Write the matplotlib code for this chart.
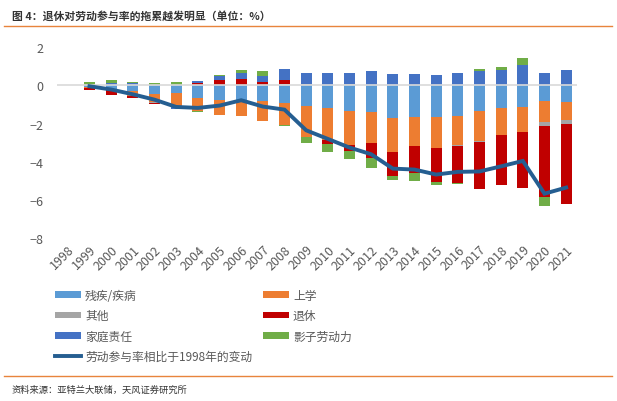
import numpy as np
import matplotlib
matplotlib.use("Agg")
import matplotlib.pyplot as plt
from matplotlib.lines import Line2D

plt.rcParams['font.family'] = ['Noto Sans CJK SC', 'DejaVu Sans']

years = [str(y) for y in range(1998, 2022)]

# 各因素对劳动参与率变化的贡献（百分点），1998年为基期
disability = [0, -0.08, -0.23, -0.31, -0.43, -0.40, -0.66, -0.78, -0.75, -0.84, -0.92, -1.10,
              -1.17, -1.36, -1.39, -1.71, -1.67, -1.67, -1.60, -1.36, -1.18, -1.15, -0.84, -0.87]
school = [0, -0.04, -0.04, -0.26, -0.43, -0.73, -0.70, -0.78, -0.87, -1.04, -1.17, -1.62,
          -1.67, -1.78, -1.64, -1.79, -1.51, -1.58, -1.53, -1.57, -1.43, -1.31, -1.08, -0.96]
other = [0, 0, 0, 0, -0.05, 0, 0, 0, 0, 0, 0.07, 0.07,
         0, 0.07, 0, 0, 0, -0.03, -0.05, -0.05, 0, 0, -0.23, -0.21]
retire = [0, -0.12, -0.26, -0.09, -0.07, 0, 0.12, 0.26, 0.31, 0.16, 0.19, 0,
          -0.23, -0.31, -0.77, -1.25, -1.39, -1.78, -1.91, -2.45, -2.61, -2.92, -3.69, -4.14]
family = [0, 0, 0.10, 0.10, 0, -0.10, 0.10, 0.23, 0.31, 0.31, 0.57, 0.56,
          0.63, 0.56, 0.73, 0.57, 0.57, 0.52, 0.63, 0.73, 0.78, 1.04, 0.63, 0.78]
shadow = [0, 0.16, 0.16, 0.05, 0.10, 0.16, -0.05, 0.05, 0.16, 0.26, -0.05, -0.30,
          -0.42, -0.40, -0.52, -0.21, -0.44, -0.16, -0.07, 0.10, 0.16, 0.37, -0.47, -0.03]
lfpr_change = [np.nan, -0.05, -0.22, -0.47, -0.75, -1.13, -1.18, -1.06, -0.78, -1.11, -1.27, -2.35,
               -2.80, -3.25, -3.60, -4.35, -4.40, -4.66, -4.52, -4.50, -4.23, -3.95, -5.66, -5.34]

series = [
    ("残疾/疾病", disability, "#5B9BD5"),
    ("上学", school, "#ED7D31"),
    ("其他", other, "#A5A5A5"),
    ("退休", retire, "#C00000"),
    ("家庭责任", family, "#4472C4"),
    ("影子劳动力", shadow, "#70AD47"),
]
line_label = "劳动参与率相比于1998年的变动"

fig = plt.figure(figsize=(6.17, 4.02), dpi=100)
ax = fig.add_axes([57 / 617, 1 - 239.5 / 402, 520 / 617, 191.5 / 402])

x = np.arange(len(years))
pos_base = np.zeros(len(years))
neg_base = np.zeros(len(years))
handles = {}
for name, vals, color in series:
    v = np.array(vals, dtype=float)
    bottom = np.where(v >= 0, pos_base, neg_base)
    handles[name] = ax.bar(x, v, 0.51, bottom=bottom, color=color, label=name, zorder=2)
    pos_base += np.where(v >= 0, v, 0)
    neg_base += np.where(v < 0, v, 0)

ax.axhline(0, color="#D9D9D9", lw=1.2, zorder=3)
ln, = ax.plot(x, lfpr_change, color="#255E91", lw=2.8, zorder=4,
              solid_joinstyle="miter", label=line_label)

ax.set_xlim(-0.5, len(years) - 0.5)
ax.set_ylim(-8, 2)
ax.set_yticks([2, 0, -2, -4, -6, -8])
ax.set_xticks(x)
ax.set_xticklabels(years, rotation=45, ha="right", va="top", rotation_mode="anchor")
for s in ax.spines.values():
    s.set_visible(False)
ax.tick_params(length=0, labelsize=9, colors="#595959")
ax.tick_params(axis="x", pad=3)
ax.tick_params(axis="y", pad=10)

order = ["残疾/疾病", "其他", "家庭责任", None, "上学", "退休", "影子劳动力"]
hs = []
ls = []
for n in order:
    if n is None:
        hs.append(Line2D([], [], color="#255E91", lw=2.8))
        ls.append(line_label)
    else:
        hs.append(handles[n])
        ls.append(n)
fig.legend(hs, ls, ncol=2, loc="upper left", bbox_to_anchor=(55 / 617, 1 - 290 / 402),
           frameon=False, fontsize=8.5, labelcolor="#595959", handlelength=2.2,
           handleheight=0.5, handletextpad=0.35, columnspacing=0.9, labelspacing=0.62,
           borderpad=0, borderaxespad=0)

# 标题与来源
fig.text(12 / 617, 1 - 16 / 402, "图 4：退休对劳动参与率的拖累越发明显（单位：%）",
         fontsize=7.8, fontweight="bold", color="#333333", va="center", ha="left")
fig.add_artist(Line2D([4 / 617, 612 / 617], [1 - 27 / 402] * 2, color="#E8843C", lw=1))
fig.add_artist(Line2D([4 / 617, 612 / 617], [1 - 377 / 402] * 2, color="#E8843C", lw=1))
fig.text(12 / 617, 1 - 390 / 402, "资料来源：亚特兰大联储，天风证券研究所",
         fontsize=6.7, color="#333333", va="center", ha="left")

fig.savefig("out.png", dpi=100)
